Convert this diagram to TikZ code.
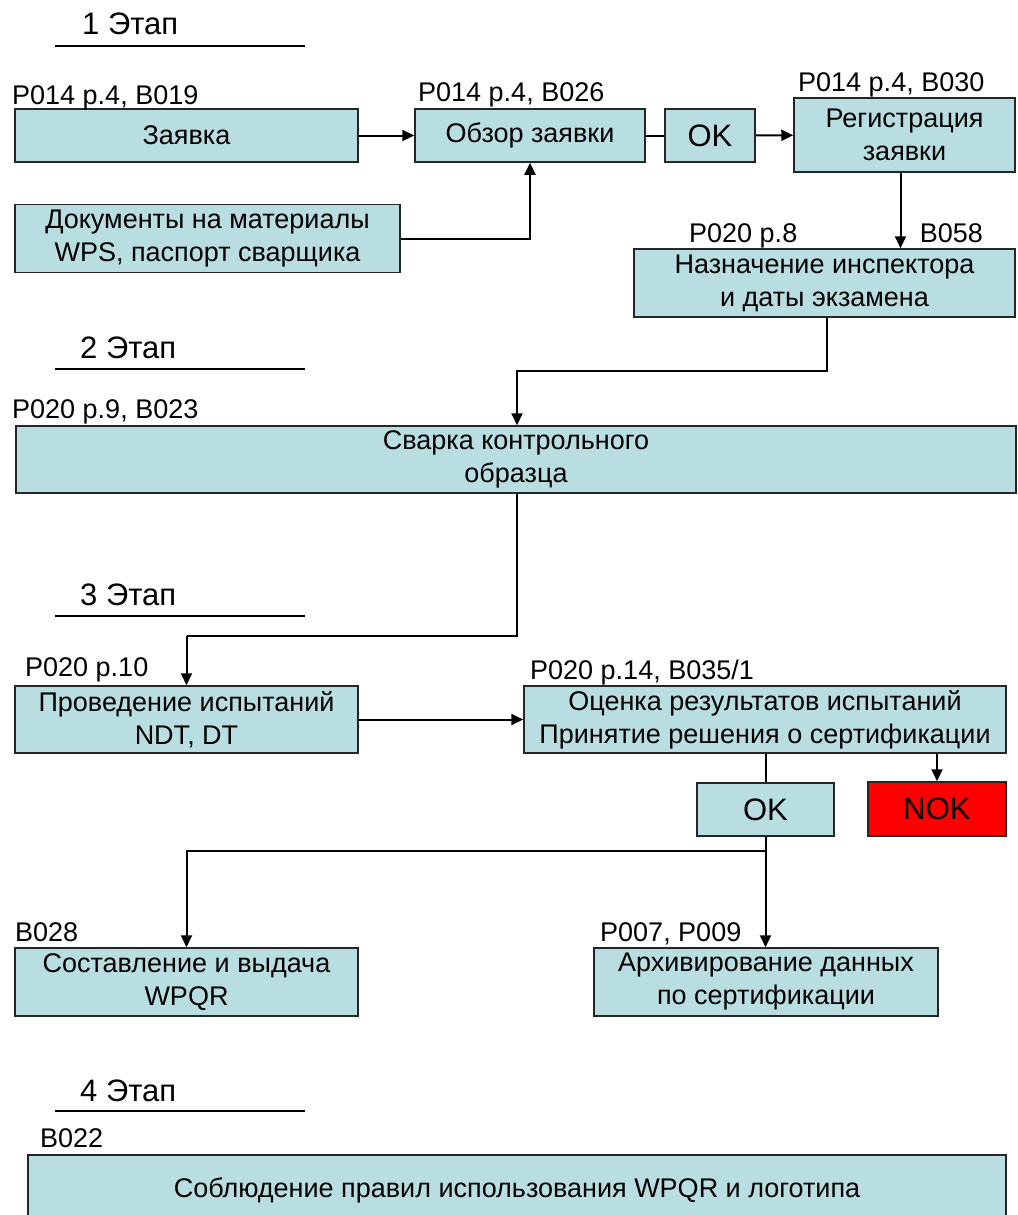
\documentclass[tikz,border=0pt]{standalone}
\usepackage{fontspec}
\setmainfont{Liberation Sans}
\usetikzlibrary{arrows.meta}
\definecolor{boxfill}{RGB}{184,222,226}
\definecolor{nokfill}{RGB}{255,0,0}

\begin{document}
\begin{tikzpicture}[x=1pt,y=1pt,yscale=-1,xscale=1,
  box/.style={draw=black!85,line width=1.5pt,fill=boxfill,inner sep=0pt,align=center,
    font=\fontsize{27}{33}\selectfont},
  okbox/.style={box,font=\fontsize{31}{36}\selectfont},
  tag/.style={anchor=base west,inner sep=0pt,font=\fontsize{27}{30}\selectfont},
  stage/.style={anchor=base west,inner sep=0pt,font=\fontsize{31}{34}\selectfont},
  link/.style={line width=2pt,black},
  arr/.style={link,-{Triangle[length=12pt,width=11pt]}}]
\useasboundingbox (0,0) rectangle (1017,1215);
\clip (0,0) rectangle (1017,1215);

% Stage 1
\node[stage] (st1) at (82,35) {1 Этап};
\draw [line width=1.2pt] (55,46) -- (305,46) ;

\node[box,minimum width=343,minimum height=53] (zayavka) at (186.5,135.5) {Заявка};
\node[tag] (t-zayavka) at (12,104) {P014 p.4, B019};

\node[box,minimum width=230,minimum height=53] (obzor) at (530,135.5) {Обзор заявки};
\node[tag] (t-obzor) at (418,101) {P014 p.4, B026};

\node[okbox,minimum width=90,minimum height=53] (ok1) at (710,135.5) {OK};

\node[box,minimum width=221,minimum height=74] (reg) at (904.5,135) {Регистрация\\заявки};
\node[tag] (t-reg) at (798,91) {P014 p.4, B030};

\node[box,minimum width=385,minimum height=68] (docs) at (207.5,238.5) {Документы на материалы\\WPS, паспорт сварщика};

\node[box,minimum width=381,minimum height=68] (naznach) at (824.5,283) {Назначение инспектора\\и даты экзамена};
\node[tag] (t-naznach) at (689,242) {P020 p.8};
\node[tag,anchor=base east] (t-naznach2) at (983,242) {B058};

% Stage 2
\node[stage] (st2) at (80,358) {2 Этап};
\draw [line width=1.2pt] (55,369) -- (305,369) ;

\node[box,minimum width=1000,minimum height=67] (svarka) at (516,459.5) {Сварка контрольного\\образца};
\node[tag] (t-svarka) at (12,418) {P020 p.9, B023};

% Stage 3
\node[stage] (st3) at (80,605) {3 Этап};
\draw [line width=1.2pt] (55,616) -- (305,616) ;

\node[box,minimum width=343,minimum height=67] (proved) at (186.5,719.5) {Проведение испытаний\\NDT, DT};
\node[tag] (t-proved) at (25,676) {P020 p.10};

\node[box,minimum width=482,minimum height=67] (ocenka) at (765,719.5) {Оценка результатов испытаний\\Принятие решения о сертификации};
\node[tag] (t-ocenka) at (530,679) {P020 p.14, B035/1};

\node[okbox,minimum width=137,minimum height=53] (ok2) at (765.5,809.5) {OK};
\node[okbox,fill=nokfill,minimum width=138,minimum height=54] (nok) at (937,809) {NOK};

\node[box,minimum width=343,minimum height=68] (sostav) at (186.5,982) {Составление и выдача\\WPQR};
\node[tag] (t-sostav) at (15,941) {B028};

\node[box,minimum width=344,minimum height=68] (arhiv) at (766,982) {Архивирование данных\\по сертификации};
\node[tag] (t-arhiv) at (600,941) {P007, P009};

% Stage 4
\node[stage] (st4) at (80,1101) {4 Этап};
\draw [line width=1.2pt] (55,1111) -- (305,1111) ;

\node[box,minimum width=978,minimum height=70] (sobl) at (517,1190) {Соблюдение правил использования WPQR и логотипа};
\node[tag] (t-sobl) at (40,1147) {B022};

% Connectors
\coordinate (j1) at (517,371);
\coordinate (j2) at (186.5,636);
\coordinate (j3) at (765.5,851);
\draw [arr] (zayavka) -- (obzor) ;
\draw [link] (obzor) -- (ok1) ;
\draw [arr] (ok1) -- (reg) ;
\draw [arr] (docs.east) -| (obzor.south) ;
\draw [arr] ([xshift=-4pt]reg.south) -- ([xshift=-4pt]reg.south |- naznach.north) ;
\draw [arr] ([xshift=2pt]naznach.south) |- (j1) -- (j1 |- svarka.north) ;
\draw [link] (svarka.south -| j1) |- (j2) ;
\draw [arr] (j2) -- (proved.north) ;
\draw [arr] (proved) -- (ocenka) ;
\draw [link] (ocenka.south -| ok2.north) -- (ok2.north) ;
\draw [arr] (ocenka.south -| nok.north) -- (nok.north) ;
\draw [link] (ok2.south) -- (j3) ;
\draw [arr] (j3) -| (sostav.north) ;
\draw [arr] (j3) -- (j3 |- arhiv.north) ;

\end{tikzpicture}
\end{document}
